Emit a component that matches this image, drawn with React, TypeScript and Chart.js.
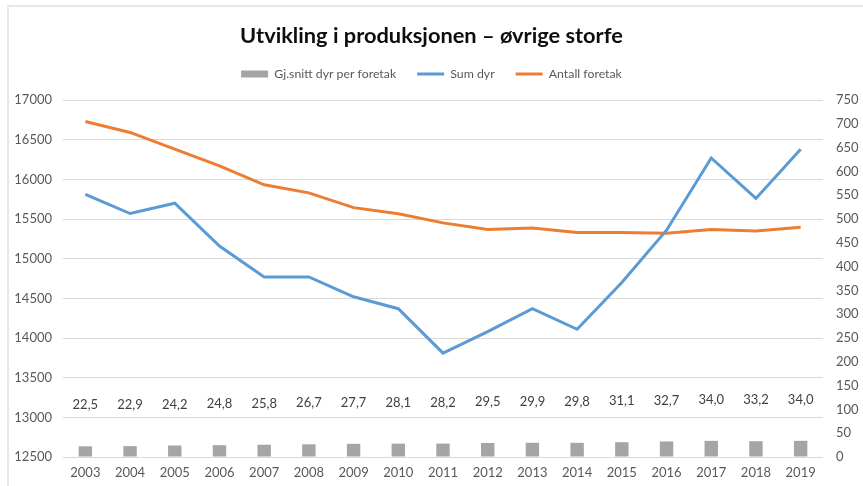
import React, { useEffect, useRef } from "react";
import { Chart, registerables } from "chart.js";

Chart.register(...registerables);

const years = ["2003", "2004", "2005", "2006", "2007", "2008", "2009", "2010", "2011", "2012", "2013", "2014", "2015", "2016", "2017", "2018", "2019"];
const avgPerFarm = [22.5, 22.9, 24.2, 24.8, 25.8, 26.7, 27.7, 28.1, 28.2, 29.5, 29.9, 29.8, 31.1, 32.7, 34.0, 33.2, 34.0];
const sumAnimals = [15810, 15570, 15700, 15160, 14770, 14770, 14520, 14370, 13810, 14080, 14370, 14110, 14700, 15360, 16270, 15760, 16380];
const farmCount = [705, 682, 647, 612, 572, 555, 524, 511, 492, 478, 481, 472, 472, 470, 478, 475, 483];

const title = "Utvikling i produksjonen – øvrige storfe";
const seriesNames = ["Gj.snitt dyr per foretak", "Sum dyr", "Antall foretak"];

const FONT = "Lato, 'Open Sans', sans-serif";
const TICK_COLOR = "#595959";

const barLabels = {
  id: "barLabels",
  afterDatasetsDraw(chart: any) {
    const meta = chart.getDatasetMeta(0);
    const ctx = chart.ctx;
    ctx.save();
    ctx.font = `13px ${FONT}`;
    ctx.fillStyle = "#404040";
    ctx.textAlign = "center";
    ctx.textBaseline = "middle";
    meta.data.forEach((bar: any, i: number) => {
      const v = avgPerFarm[i];
      ctx.fillText(v.toFixed(1).replace(".", ","), bar.x, bar.y - 41);
    });
    ctx.restore();
  },
};

const legendSpacing = {
  id: "legendSpacing",
  beforeInit(chart: any) {
    const legend = chart.legend;
    if (!legend) return;
    const origFit = legend.fit;
    legend.fit = function () {
      origFit.call(this);
      this.height += 10;
    };
  },
};

export default function App() {
  const ref = useRef<HTMLCanvasElement | null>(null);

  useEffect(() => {
    if (!ref.current) return;
    const chart = new Chart(ref.current, {
      type: "bar",
      data: {
        labels: years,
        datasets: [
          {
            type: "bar",
            label: seriesNames[0],
            data: avgPerFarm,
            backgroundColor: "#a5a5a5",
            yAxisID: "y1",
            barPercentage: 0.3,
            categoryPercentage: 1,
            order: 3,
          },
          {
            type: "line",
            label: seriesNames[1],
            data: sumAnimals,
            borderColor: "#5b9bd5",
            backgroundColor: "#5b9bd5",
            borderWidth: 3,
            pointRadius: 0,
            tension: 0,
            yAxisID: "y",
            order: 1,
          },
          {
            type: "line",
            label: seriesNames[2],
            data: farmCount,
            borderColor: "#ed7d31",
            backgroundColor: "#ed7d31",
            borderWidth: 3,
            pointRadius: 0,
            tension: 0,
            yAxisID: "y1",
            order: 2,
          },
        ] as any,
      },
      options: {
        responsive: false,
        maintainAspectRatio: false,
        animation: false,
        layout: { padding: { left: 0, right: 0, top: 0, bottom: 0 } },
        plugins: {
          title: {
            display: true,
            text: title,
            color: "#0d0d0d",
            font: { family: FONT, size: 21.8, weight: "bold", lineHeight: 1 },
            padding: { top: 25, bottom: 0 },
          },
          legend: {
            display: true,
            position: "top",
            labels: {
              color: TICK_COLOR,
              font: { family: FONT, size: 12.3 },
              usePointStyle: true,
              pointStyleWidth: 27,
              boxHeight: 7,
              padding: 21,
              generateLabels(chart: any) {
                return chart.data.datasets.map((ds: any, i: number) => ({
                  text: ds.label,
                  fillStyle: ds.backgroundColor,
                  strokeStyle: ds.type === "line" ? ds.borderColor : ds.backgroundColor,
                  lineWidth: ds.type === "line" ? 3 : 0,
                  pointStyle: ds.type === "line" ? "line" : "rect",
                  hidden: false,
                  datasetIndex: i,
                  fontColor: TICK_COLOR,
                }));
              },
            },
          },
          tooltip: { enabled: false },
        },
        scales: {
          x: {
            type: "category",
            offset: true,
            grid: { display: false, drawTicks: false },
            border: { display: false },
            ticks: {
              color: TICK_COLOR,
              font: { family: FONT, size: 13 },
              padding: 8,
              maxRotation: 0,
              autoSkip: false,
            },
            afterFit(scale: any) {
              scale.height = 29;
            },
          },
          y: {
            position: "left",
            min: 12500,
            max: 17000,
            grid: { color: "#d9d9d9", lineWidth: 1, drawTicks: false },
            border: { display: false },
            ticks: {
              stepSize: 500,
              color: TICK_COLOR,
              font: { family: FONT, size: 13 },
              padding: 11,
              callback: (v: any) => String(v),
            },
            afterFit(scale: any) {
              scale.width = 63;
            },
          },
          y1: {
            position: "right",
            min: 0,
            max: 750,
            grid: { drawOnChartArea: false, drawTicks: false },
            border: { display: false },
            ticks: {
              stepSize: 50,
              color: TICK_COLOR,
              font: { family: FONT, size: 13 },
              padding: 13,
              callback: (v: any) => String(v),
            },
            afterFit(scale: any) {
              scale.width = 40;
            },
          },
        },
      },
      plugins: [barLabels, legendSpacing],
    });
    return () => chart.destroy();
  }, []);

  return (
    <div style={{ position: "fixed", left: 0, top: 0, width: 863, height: 486, background: "#ffffff", overflow: "hidden" }}>
      <div
        style={{
          position: "absolute",
          left: 7,
          top: 5,
          width: 900,
          height: 600,
          borderTop: "2px solid #e7e7e7",
          borderLeft: "2px solid #e7e7e7",
        }}
      />
      <canvas ref={ref} width={863} height={486} style={{ position: "absolute", left: 0, top: 0 }} />
    </div>
  );
}
